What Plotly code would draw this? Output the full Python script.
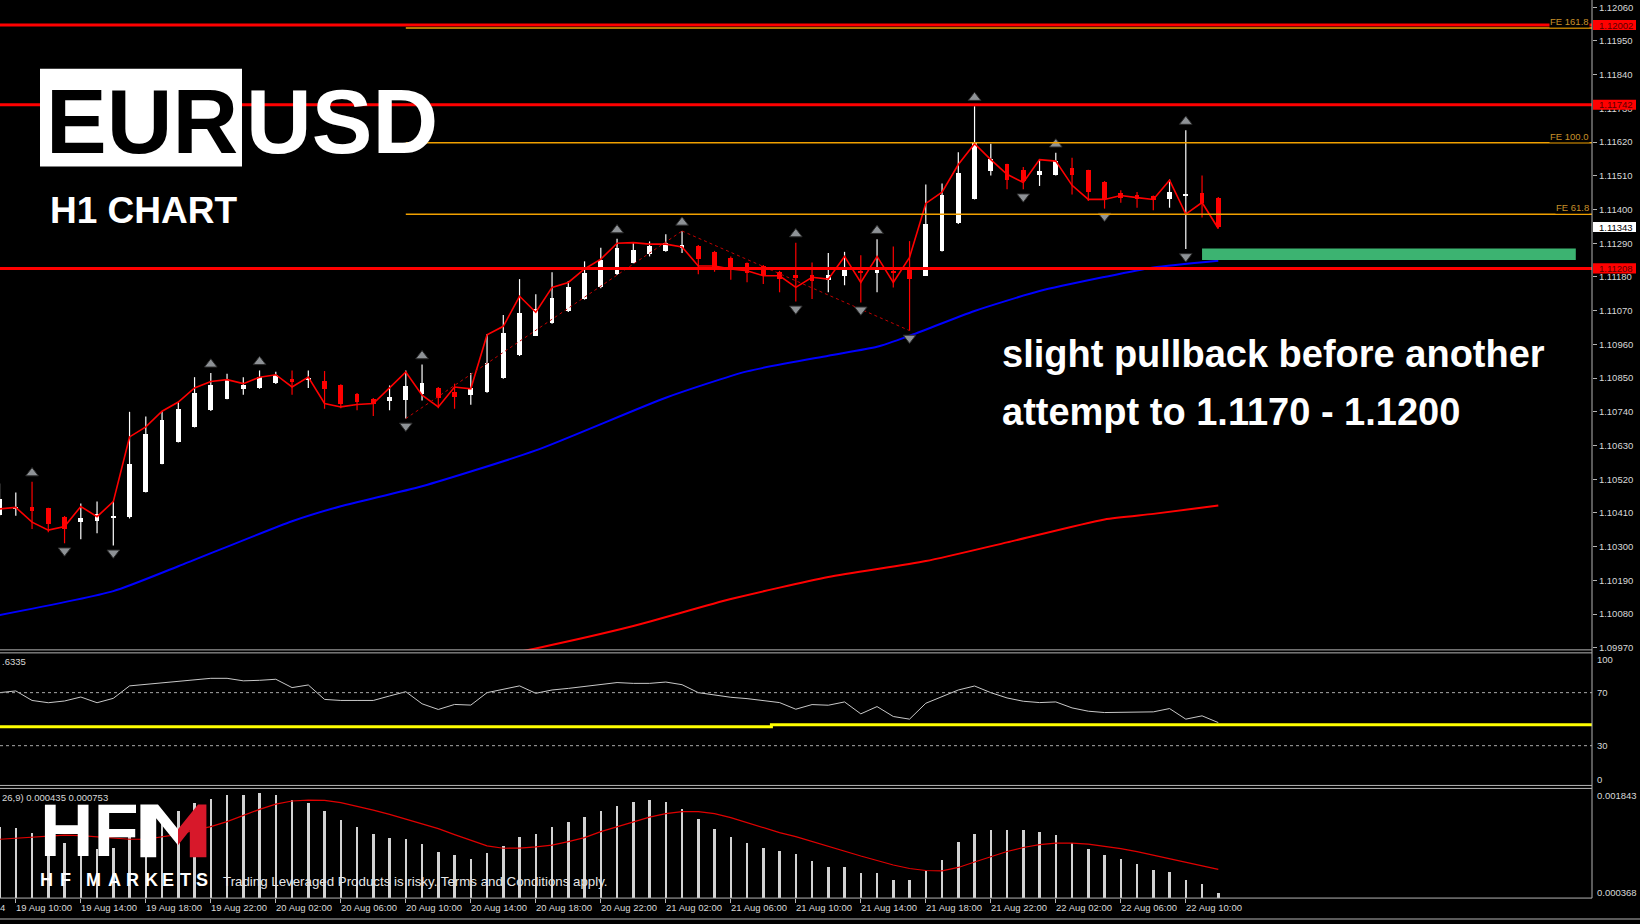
import plotly.graph_objects as go

# ---------------- data ----------------
bar_index = list(range(-1, 75))          # hourly bars, 0 = 19 Aug 10:00

opens = [1.10403, 1.10423, 1.10431, 1.10425, 1.10398, 1.10379, 1.10384, 1.10392, 1.10396, 1.10479,
         1.10571, 1.10642, 1.10691, 1.10745, 1.10783, 1.10815, 1.10818, 1.10835, 1.10848, 1.10845,
         1.10842, 1.10828, 1.10799, 1.10783, 1.10774, 1.10777, 1.10799, 1.10818, 1.10805, 1.10796,
         1.10805, 1.10850, 1.10924, 1.10989, 1.11030, 1.11070, 1.11108, 1.11146, 1.11189, 1.11227,
         1.11254, 1.11265, 1.11276, 1.11281, 1.11263, 1.11243, 1.11225, 1.11217, 1.11197, 1.11186,
         1.11186, 1.11171, 1.11182, 1.11199, 1.11192, 1.11200, 1.11203, 1.11184, 1.11265, 1.11355,
         1.11435, 1.11525, 1.11547, 1.11528, 1.11514, 1.11514, 1.11536, 1.11528, 1.11491, 1.11455,
         1.11449, 1.11444, 1.11435, 1.11447, 1.11453, 1.11439]
highs = [1.10506, 1.10477, 1.10512, 1.10427, 1.10400, 1.10441, 1.10447, 1.10447, 1.10740, 1.10725,
         1.10742, 1.10772, 1.10853, 1.10867, 1.10864, 1.10853, 1.10875, 1.10871, 1.10875, 1.10875,
         1.10873, 1.10830, 1.10801, 1.10785, 1.10826, 1.10875, 1.10894, 1.10821, 1.10832, 1.10867,
         1.10994, 1.11056, 1.11173, 1.11124, 1.11195, 1.11167, 1.11231, 1.11275, 1.11305, 1.11294,
         1.11296, 1.11319, 1.11330, 1.11284, 1.11265, 1.11247, 1.11227, 1.11219, 1.11200, 1.11292,
         1.11227, 1.11258, 1.11262, 1.11251, 1.11303, 1.11279, 1.11297, 1.11482, 1.11485, 1.11587,
         1.11737, 1.11615, 1.11549, 1.11539, 1.11565, 1.11585, 1.11569, 1.11530, 1.11493, 1.11463,
         1.11457, 1.11446, 1.11498, 1.11659, 1.11511, 1.11441]
lows = [1.10399, 1.10401, 1.10358, 1.10347, 1.10311, 1.10324, 1.10344, 1.10304, 1.10392, 1.10477,
        1.10569, 1.10640, 1.10689, 1.10743, 1.10781, 1.10796, 1.10815, 1.10831, 1.10796, 1.10818,
        1.10750, 1.10752, 1.10745, 1.10726, 1.10745, 1.10718, 1.10777, 1.10752, 1.10750, 1.10763,
        1.10802, 1.10848, 1.10922, 1.10987, 1.11027, 1.11066, 1.11106, 1.11143, 1.11186, 1.11225,
        1.11247, 1.11262, 1.11258, 1.11189, 1.11197, 1.11171, 1.11163, 1.11157, 1.11130, 1.11100,
        1.11108, 1.11130, 1.11153, 1.11097, 1.11130, 1.11146, 1.11005, 1.11183, 1.11263, 1.11353,
        1.11433, 1.11511, 1.11466, 1.11466, 1.11477, 1.11511, 1.11449, 1.11428, 1.11403, 1.11422,
        1.11406, 1.11398, 1.11406, 1.11271, 1.11374, 1.11338]
closes = [1.10454, 1.10431, 1.10416, 1.10373, 1.10358, 1.10392, 1.10405, 1.10400, 1.10571, 1.10669,
          1.10712, 1.10748, 1.10802, 1.10828, 1.10846, 1.10828, 1.10853, 1.10861, 1.10837, 1.10848,
          1.10815, 1.10767, 1.10772, 1.10767, 1.10788, 1.10823, 1.10835, 1.10786, 1.10788, 1.10818,
          1.10900, 1.10997, 1.11062, 1.11075, 1.11111, 1.11146, 1.11192, 1.11234, 1.11273, 1.11268,
          1.11281, 1.11290, 1.11284, 1.11240, 1.11211, 1.11205, 1.11192, 1.11186, 1.11173, 1.11178,
          1.11167, 1.11186, 1.11206, 1.11192, 1.11206, 1.11195, 1.11173, 1.11352, 1.11449, 1.11518,
          1.11617, 1.11565, 1.11496, 1.11492, 1.11525, 1.11557, 1.11514, 1.11457, 1.11435, 1.11439,
          1.11435, 1.11431, 1.11457, 1.11452, 1.11422, 1.11343]

fast_line = [1.10423, 1.10428, 1.10380, 1.10354, 1.10366, 1.10431, 1.10398, 1.10447, 1.10658, 1.10691,
             1.10742, 1.10772, 1.10818, 1.10839, 1.10845, 1.10832, 1.10853, 1.10861, 1.10821, 1.10853,
             1.10767, 1.10756, 1.10764, 1.10767, 1.10818, 1.10870, 1.10794, 1.10756, 1.10821, 1.10815,
             1.10991, 1.11019, 1.11117, 1.11065, 1.11146, 1.11162, 1.11206, 1.11238, 1.11290, 1.11292,
             1.11287, 1.11287, 1.11278, 1.11216, 1.11216, 1.11206, 1.11200, 1.11184, 1.11184, 1.11146,
             1.11179, 1.11173, 1.11247, 1.11162, 1.11247, 1.11162, 1.11244, 1.11420, 1.11457, 1.11547,
             1.11615, 1.11563, 1.11515, 1.11488, 1.11563, 1.11558, 1.11479, 1.11433, 1.11433, 1.11446,
             1.11439, 1.11433, 1.11496, 1.11385, 1.11423, 1.11338]

blue_ma_x = [-1, 6, 10, 17, 20, 25, 32, 40, 45, 50, 53, 55, 59, 63, 67, 70, 74]
blue_ma_v = [1.10077, 1.10155, 1.10236, 1.10383, 1.10432, 1.10497, 1.10614, 1.10786, 1.10872,
             1.10923, 1.10952, 1.10988, 1.11069, 1.11134, 1.11180, 1.11211, 1.11233]
red_ma_x = [30, 32, 38, 44, 50, 56, 61, 67, 70, 74]
red_ma_v = [1.09947, 1.09968, 1.10041, 1.10129, 1.10201, 1.10253, 1.10314, 1.10389, 1.10407, 1.10434]

up_arrow_bars = [1, 12, 15, 25, 37, 41, 48, 53, 59, 64, 72]
down_arrow_bars = [3, 6, 24, 48, 52, 55, 62, 67, 72]
trend_a = (24, 41)   # from low of bar 24 to high of bar 41
trend_b = (41, 55)   # from high of bar 41 to low of bar 55

red_levels = [1.12002, 1.11742, 1.11208]
fe_levels = [1.11992, 1.11618, 1.11385]
fe_names = ["FE 161.8", "FE 100.0", "FE 61.8"]
fe_start_bar = 24
bid_price = 1.11343
zone_bars = (73, 96)
zone_prices = (1.11235, 1.11273)

price_ticks = [1.09970, 1.10080, 1.10190, 1.10300, 1.10410, 1.10520, 1.10630, 1.10740, 1.10850,
               1.10960, 1.11070, 1.11180, 1.11290, 1.11400, 1.11510, 1.11620, 1.11730, 1.11840,
               1.11950, 1.12060]

rsi_vals = [70.0, 71.3, 64.1, 62.4, 63.7, 66.7, 62.4, 65.7, 75.1, 76.3, 77.6, 78.9, 80.1, 80.8, 80.8,
            78.9, 79.3, 80.1, 73.8, 75.8, 64.9, 64.1, 64.1, 64.1, 67.5, 70.7, 61.6, 57.3, 61.1, 60.6,
            70.0, 72.5, 75.1, 69.5, 72.0, 73.2, 74.5, 76.3, 77.6,
            77, 77, 78, 76, 70, 68, 66.5, 65.5, 64, 62.5, 57.5, 61, 60.5, 63, 54, 59.5, 52, 50, 62, 67,
            72, 75, 70, 66, 63.5, 62.5, 63, 58.5, 56, 55, 55, 55, 55.5, 58, 50, 52.5, 47.4]
yellow_x = [-1, 46.5, 46.5, 97]
yellow_v = [44.2, 44.2, 45.7, 45.7]

macd_hist = [0.001316, 0.001307, 0.001236, 0.001182, 0.001101, 0.001061, 0.001021, 0.001034, 0.001182, 0.001316,
             0.001437, 0.001531, 0.001638, 0.001701, 0.001754, 0.001754, 0.001772, 0.001754, 0.001687, 0.001647,
             0.001527, 0.001414, 0.001316, 0.001218, 0.001168, 0.001159, 0.001084, 0.000977, 0.000937, 0.000887,
             0.000967, 0.001057, 0.001182, 0.001226, 0.001316, 0.001392, 0.001450, 0.001531, 0.001607, 0.001651,
             0.001678, 0.001651, 0.001557, 0.001423, 0.001289, 0.001182, 0.001101, 0.001034, 0.000994, 0.000954,
             0.000860, 0.000780, 0.000780, 0.000699, 0.000699, 0.000601, 0.000601, 0.000726, 0.000869, 0.001115,
             0.001222, 0.001276, 0.001276, 0.001276, 0.001249, 0.001209, 0.001101, 0.001021, 0.000941, 0.000887,
             0.000816, 0.000735, 0.000717, 0.000609, 0.000556, 0.000435]
macd_signal = [0.001159, 0.001175, 0.001189, 0.001202, 0.001215, 0.001209, 0.001189, 0.001169, 0.001159, 0.001159,
               0.001191, 0.001226, 0.001282, 0.001329, 0.001396, 0.001477, 0.001561, 0.001631, 0.001674, 0.001687,
               0.001682, 0.001651, 0.001604, 0.001551, 0.001494, 0.001430, 0.001370, 0.001303, 0.001222, 0.001148,
               0.001071, 0.001038, 0.001041, 0.001057, 0.001081, 0.001128, 0.001182, 0.001262, 0.001325, 0.001396,
               0.001457, 0.001504, 0.001531, 0.001531, 0.001504, 0.001450, 0.001383, 0.001316, 0.001249, 0.001195,
               0.001128, 0.001061, 0.001001, 0.000934, 0.000874, 0.000813, 0.000766, 0.000739, 0.000733, 0.000780,
               0.000853, 0.000927, 0.000994, 0.001048, 0.001088, 0.001108, 0.001108, 0.001095, 0.001068, 0.001034,
               0.000994, 0.000947, 0.000900, 0.000853, 0.000800, 0.000753]

time_tick_bars = list(range(0, 73, 4))
time_tick_text = ["19 Aug 10:00", "19 Aug 14:00", "19 Aug 18:00", "19 Aug 22:00", "20 Aug 02:00",
                  "20 Aug 06:00", "20 Aug 10:00", "20 Aug 14:00", "20 Aug 18:00", "20 Aug 22:00",
                  "21 Aug 02:00", "21 Aug 06:00", "21 Aug 10:00", "21 Aug 14:00", "21 Aug 18:00",
                  "21 Aug 22:00", "22 Aug 02:00", "22 Aug 06:00", "22 Aug 10:00"]

# ---------------- layout helpers ----------------
W, H = 1640, 924
PR = 1592.0  # right edge of plot area (px)
FONT = "Liberation Sans"
AXC = "#b4b4b4"
LBL = "#d8d8d8"


def X(px):
    return px / PR


def Y(py):
    return 1.0 - py / H


fig = go.Figure()
n = len(bar_index)
pos = {b: k for k, b in enumerate(bar_index)}

# moving averages
fig.add_trace(go.Scatter(x=blue_ma_x, y=blue_ma_v, mode="lines",
                         line=dict(color="#0000ff", width=2, shape="spline", smoothing=0.6)))
fig.add_trace(go.Scatter(x=red_ma_x, y=red_ma_v, mode="lines",
                         line=dict(color="#ff0000", width=2, shape="spline", smoothing=0.6)))

# candles
bull = [k for k in range(n) if closes[k] >= opens[k]]
bear = [k for k in range(n) if closes[k] < opens[k]]
for group, col in ((bull, "#ffffff"), (bear, "#ff0000")):
    wx, wy = [], []
    for k in group:
        wx += [bar_index[k], bar_index[k], None]
        wy += [lows[k], highs[k], None]
    fig.add_trace(go.Scatter(x=wx, y=wy, mode="lines", line=dict(color=col, width=1.2)))
    fig.add_trace(go.Bar(x=[bar_index[k] for k in group],
                         y=[max(abs(closes[k] - opens[k]), 0.00004) for k in group],
                         base=[min(opens[k], closes[k]) for k in group],
                         width=0.29, marker=dict(color=col, line=dict(width=0))))

# fast red line
fig.add_trace(go.Scatter(x=bar_index, y=fast_line, mode="lines", line=dict(color="#ff0000", width=1.6)))

# dotted trend lines
for a, b, ya, yb in ((trend_a[0], trend_a[1], lows[pos[trend_a[0]]], highs[pos[trend_a[1]]]),
                     (trend_b[0], trend_b[1], highs[pos[trend_b[0]]], lows[pos[trend_b[1]]])):
    fig.add_trace(go.Scatter(x=[a, b], y=[ya, yb], mode="lines",
                             line=dict(color="#c00000", width=1, dash="3px,3px")))

# fractal arrows
fig.add_trace(go.Scatter(x=up_arrow_bars, y=[highs[pos[b]] + 0.00028 for b in up_arrow_bars],
                         mode="markers", marker=dict(symbol="triangle-up", size=11, color="#8e9296",
                                                     line=dict(color="#2a2a2a", width=1))))
fig.add_trace(go.Scatter(x=down_arrow_bars, y=[lows[pos[b]] - 0.00024 for b in down_arrow_bars],
                         mode="markers", marker=dict(symbol="triangle-down", size=11, color="#8e9296",
                                                     line=dict(color="#2a2a2a", width=1))))

# RSI
fig.add_trace(go.Scatter(x=yellow_x, y=yellow_v, yaxis="y2", mode="lines",
                         line=dict(color="#ffff00", width=3)))
fig.add_trace(go.Scatter(x=bar_index, y=rsi_vals, yaxis="y2", mode="lines",
                         line=dict(color="#c8c8c8", width=1)))

# MACD
fig.add_trace(go.Bar(x=bar_index, y=macd_hist, yaxis="y3", width=0.16,
                     marker=dict(color="#d2d2d2", line=dict(width=0))))
fig.add_trace(go.Scatter(x=bar_index, y=macd_signal, yaxis="y3", mode="lines",
                         line=dict(color="#e00000", width=1.2)))

shapes = []
ann = []

# horizontal levels
for lv in red_levels:
    shapes.append(dict(type="line", xref="paper", yref="y", x0=0, x1=1, y0=lv, y1=lv,
                       line=dict(color="#ff0000", width=3)))
for lv in fe_levels:
    shapes.append(dict(type="line", xref="x", yref="y", x0=fe_start_bar, x1=97, y0=lv, y1=lv,
                       line=dict(color="#f0a000", width=1.5)))
shapes.append(dict(type="rect", xref="x", yref="y", x0=zone_bars[0], x1=zone_bars[1],
                   y0=zone_prices[0], y1=zone_prices[1], fillcolor="#3cb371", line=dict(width=0)))

# RSI 70/30 dashed
for lv in (70, 30):
    shapes.append(dict(type="line", xref="paper", yref="y2", x0=0, x1=1, y0=lv, y1=lv,
                       line=dict(color="#a8a8a8", width=1, dash="3px,3px")))

# panel borders
for py in (652, 655, 788, 791, 901):
    shapes.append(dict(type="line", xref="paper", yref="paper", x0=0, x1=1, y0=Y(py), y1=Y(py),
                       line=dict(color=AXC, width=1)))
shapes.append(dict(type="line", xref="paper", yref="paper", x0=1, x1=1, y0=Y(0), y1=Y(901),
                   line=dict(color=AXC, width=1)))
shapes.append(dict(type="line", xref="paper", yref="paper", x0=0, x1=X(1640), y0=Y(922), y1=Y(922),
                   line=dict(color=AXC, width=1)))

# price tags
def tag(price, fill, txtcol):
    half = 0.000165
    shapes.append(dict(type="rect", xref="paper", yref="y", x0=X(1593), x1=X(1636),
                       y0=price - half, y1=price + half, fillcolor=fill, line=dict(width=0)))
    ann.append(dict(xref="paper", yref="y", x=X(1597), y=price, xanchor="left", yanchor="middle",
                    text=f"{price:.5f}", showarrow=False, font=dict(family=FONT, size=9.5, color=txtcol)))

for lv in red_levels:
    tag(lv, "#ff0000", "#5a0000")
tag(bid_price, "#ffffff", "#000000")

for lv, nm in zip(fe_levels, fe_names):
    ann.append(dict(xref="paper", yref="y", x=X(1590), y=lv, xanchor="right", yanchor="bottom",
                    text=nm, showarrow=False, bgcolor="#000000", borderpad=0,
                    font=dict(family=FONT, size=9.5, color="#c8902a")))

# RSI / MACD right labels
for txt, py in (("100", 661.7), ("70", 695), ("30", 747.7), ("0", 781.7),
                ("0.001843", 797.7), ("0.000368", 895)):
    ann.append(dict(xref="paper", yref="paper", x=X(1595), y=Y(py), xanchor="left", yanchor="middle",
                    text=txt, showarrow=False, font=dict(family=FONT, size=9.5, color=LBL)))

# indicator titles
ann.append(dict(xref="paper", yref="paper", x=0, y=Y(664), xanchor="left", yanchor="middle",
                text=".6335", showarrow=False, font=dict(family=FONT, size=9.5, color=LBL)))
ann.append(dict(xref="paper", yref="paper", x=0, y=Y(800), xanchor="left", yanchor="middle",
                text="26,9) 0.000435 0.000753", showarrow=False, font=dict(family=FONT, size=9.5, color=LBL)))

# time labels
for b, t in zip(time_tick_bars, time_tick_text):
    ann.append(dict(xref="x", yref="paper", x=b, y=Y(910), xanchor="left", yanchor="middle", xshift=-2,
                    text=t, showarrow=False, font=dict(family=FONT, size=9.5, color=LBL)))
ann.append(dict(xref="paper", yref="paper", x=0, y=Y(910), xanchor="left", yanchor="middle", xshift=-2,
                text="4", showarrow=False, font=dict(family=FONT, size=9.5, color=LBL)))

# title
shapes.append(dict(type="rect", xref="paper", yref="paper", x0=X(40), x1=X(242), y0=Y(167), y1=Y(69),
                   fillcolor="#ffffff", line=dict(width=0)))
ann.append(dict(xref="paper", yref="paper", x=X(142), y=Y(122.3), xanchor="center", yanchor="middle",
                text="<b>EUR</b>", showarrow=False, font=dict(family=FONT, size=91, color="#000000")))
ann.append(dict(xref="paper", yref="paper", x=X(342), y=Y(122.3), xanchor="center", yanchor="middle",
                text="<b>USD</b>", showarrow=False, font=dict(family=FONT, size=91, color="#ffffff")))
ann.append(dict(xref="paper", yref="paper", x=X(48), y=Y(211), xanchor="left", yanchor="middle",
                text="<b>H1 CHART</b>", showarrow=False, font=dict(family=FONT, size=37, color="#ffffff")))

ann.append(dict(xref="paper", yref="paper", x=X(1000), y=Y(355.5), xanchor="left", yanchor="middle",
                text="<b>slight pullback before another</b>", showarrow=False,
                font=dict(family=FONT, size=38, color="#ffffff")))
ann.append(dict(xref="paper", yref="paper", x=X(1000), y=Y(413), xanchor="left", yanchor="middle",
                text="<b>attempt to 1.1170 - 1.1200</b>", showarrow=False,
                font=dict(family=FONT, size=38, color="#ffffff")))

# HFM logo
def path(points):
    return "M " + " L ".join(f"{X(a):.6f},{Y(b):.6f}" for a, b in points) + " Z"

ann.append(dict(xref="paper", yref="paper", x=X(38), y=Y(833.3), xanchor="left", yanchor="middle",
                text="<b>HF</b>", showarrow=False, font=dict(family=FONT, size=74, color="#ffffff")))
shapes.append(dict(type="path", xref="paper", yref="paper",
                   path=path([(140.4, 807), (158, 807), (178, 832), (178, 848), (156.2, 821),
                              (156.2, 860), (140.4, 860)]),
                   fillcolor="#ffffff", line=dict(width=0)))
shapes.append(dict(type="path", xref="paper", yref="paper",
                   path=path([(178, 848), (178, 832), (198, 807), (206.4, 807), (206.4, 860),
                              (189.8, 860), (189.8, 833)]),
                   fillcolor="#d7182a", line=dict(width=0)))
for ch, cx in zip("HFMARKETS", (46, 65, 93, 115, 132, 151, 168, 185, 202)):
    ann.append(dict(xref="paper", yref="paper", x=X(cx), y=Y(883), xanchor="center", yanchor="middle",
                    text=f"<b>{ch}</b>", showarrow=False, font=dict(family=FONT, size=18, color="#ffffff")))
ann.append(dict(xref="paper", yref="paper", x=X(221), y=Y(884), xanchor="left", yanchor="middle",
                text="Trading Leveraged Products is risky. Terms and Conditions apply.", showarrow=False,
                font=dict(family=FONT, size=13.3, color="#e6e6e6")))

fig.update_layout(
    width=W, height=H, margin=dict(l=0, r=W - PR, t=0, b=0),
    paper_bgcolor="#000000", plot_bgcolor="#000000", showlegend=False,
    barmode="overlay", bargap=0,
    xaxis=dict(domain=[0, 1], range=[-0.9723, 96.997], anchor="y3", showgrid=False, zeroline=False,
               showline=False, tickvals=time_tick_bars, ticks="outside", ticklen=4, tickcolor=AXC,
               showticklabels=False, fixedrange=True),
    yaxis=dict(domain=[Y(652), 1], range=[1.099632, 1.120837], side="right", anchor="x",
               showgrid=False, zeroline=False, showline=False, tickvals=price_ticks,
               ticktext=[f"{v:.5f}" for v in price_ticks], ticks="outside", ticklen=4, tickcolor=AXC,
               tickfont=dict(family=FONT, size=9.5, color=LBL)),
    yaxis2=dict(domain=[Y(788), Y(655)], range=[0, 100], anchor="x", showgrid=False, zeroline=False,
                showticklabels=False),
    yaxis3=dict(domain=[Y(901), Y(791)], range=[0.000368, 0.001843], anchor="x", showgrid=False,
                zeroline=False, showticklabels=False),
    shapes=shapes, annotations=ann,
)

fig.write_html("out.html", config={"displayModeBar": False},
               post_script="document.body.style.margin='0';document.body.style.overflow='hidden';"
                           "document.documentElement.style.background='#000';")
